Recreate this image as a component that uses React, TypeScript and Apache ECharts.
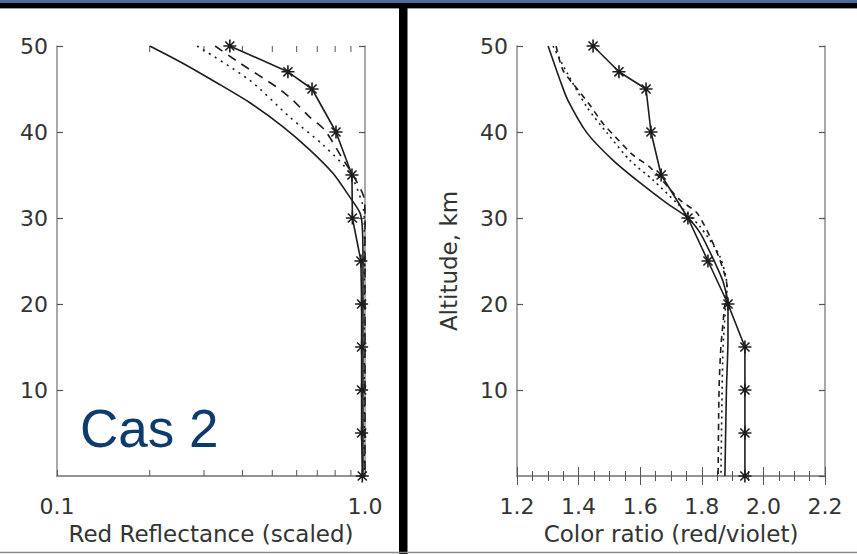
import React, { useEffect, useRef } from "react";
import * as echarts from "echarts";

// ---------- data ----------
const altStar = [50, 47, 45, 40, 35, 30, 25, 20, 15, 10, 5, 0];
const redStar = [0.364, 0.562, 0.673, 0.805, 0.907, 0.91, 0.97, 0.975, 0.975, 0.975, 0.975, 0.98];
const colorStar = [1.447, 1.531, 1.619, 1.635, 1.668, 1.755, 1.82, 1.885, 1.94, 1.94, 1.94, 1.94];

const altRedSolid = [50, 48, 45.7, 43.4, 40.6, 37.9, 35.2, 32.4, 30.6, 29, 25, 20, 10, 0];
const redSolid = [0.2, 0.256, 0.331, 0.423, 0.542, 0.663, 0.787, 0.894, 0.963, 0.98, 0.985, 0.985, 0.985, 0.985];

const altRedDotted = [50, 46, 41.7, 38.5, 35.2, 31.7, 30, 25, 0];
const redDotted = [0.285, 0.423, 0.571, 0.731, 0.894, 0.98, 0.995, 0.995, 0.995];

const altRedDashed = [50, 48, 45.2, 43.7, 41.7, 40.2, 37, 35, 32.5, 30, 0];
const redDashed = [0.326, 0.393, 0.518, 0.583, 0.663, 0.741, 0.842, 0.914, 0.99, 1.0, 1.0];

const altColSolid = [50, 46, 43.7, 39.9, 36.7, 34.1, 31.7, 30.1, 28.3, 26, 24, 22.5, 20, 16, 10, 0];
const colSolid = [1.301, 1.34, 1.365, 1.427, 1.512, 1.599, 1.687, 1.752, 1.794, 1.827, 1.853, 1.87, 1.885, 1.885, 1.88, 1.875];

const altColDotted = [50, 46.9, 42.9, 39.9, 36.7, 34.4, 31.7, 29, 25.5, 22, 20, 15, 10, 0];
const colDotted = [1.317, 1.362, 1.427, 1.492, 1.567, 1.642, 1.72, 1.794, 1.859, 1.882, 1.878, 1.869, 1.866, 1.862];

const altColDashed = [50, 47.2, 44.9, 43.1, 41, 39.1, 37.3, 35.9, 32.1, 30.6, 27.8, 25.1, 22, 20, 15, 10, 0];
const colDashed = [1.327, 1.349, 1.398, 1.437, 1.479, 1.528, 1.577, 1.632, 1.729, 1.784, 1.827, 1.859, 1.882, 1.875, 1.862, 1.856, 1.853];

const logMinorTicks = [0.2, 0.3, 0.4, 0.5, 0.6, 0.7, 0.8, 0.9];

const leftXName = "Red Reflectance (scaled)";
const rightXName = "Color ratio (red/violet)";
const yName = "Altitude, km";
const panelLabel = "Cas 2";

// ---------- helpers ----------
const pair = (xs: number[], ys: number[]) => xs.map((x, i) => [x, ys[i]]);
const FONT = "DejaVu Sans";
const TXT = "#333333";
const AX = "#8c8c8c";
const INK = "#1c1c1c";
const STAR = "path://M0 -10L0 10M-10 0L10 0M-7 -7L7 7M-7 7L7 -7";

export default function App() {
  const ref = useRef<HTMLDivElement>(null);

  useEffect(() => {
    document.body.style.margin = "0";
    const chart = echarts.init(ref.current!, null, { renderer: "svg" });

    const axisLine = { show: true, lineStyle: { color: AX, width: 1.5 } };
    const labelStyle = { fontFamily: FONT, fontSize: 22, color: TXT };
    const nameStyle = { fontFamily: FONT, fontSize: 23, color: TXT };

    const yAxisBase = (grid: number, pos: "left" | "right", labels: boolean, name: string) => ({
      type: "value",
      gridIndex: grid,
      position: pos,
      min: 0,
      max: 50,
      interval: 10,
      axisLine,
      axisTick: { show: true, inside: true, length: 6, lineStyle: { color: "#555", width: 1.2 } },
      axisLabel: labels
        ? { show: true, margin: 9, showMinLabel: false, ...labelStyle }
        : { show: false },
      splitLine: { show: false },
      name,
      nameLocation: "middle",
      nameGap: 57,
      nameTextStyle: nameStyle,
    });

    const lineS = (xi: number, yi: number, data: number[][], type: any, z = 2) => ({
      type: "line",
      xAxisIndex: xi,
      yAxisIndex: yi,
      data,
      showSymbol: false,
      smooth: 0.25,
      lineStyle: { color: INK, width: 1.6, type },
      z,
    });

    const starS = (xi: number, yi: number, data: number[][]) => ({
      type: "line",
      xAxisIndex: xi,
      yAxisIndex: yi,
      data,
      symbol: STAR,
      symbolSize: 13,
      showSymbol: true,
      showAllSymbol: true,
      lineStyle: { color: INK, width: 1.6 },
      itemStyle: { color: INK, borderColor: INK, borderWidth: 1.6 },
      z: 5,
    });

    const option: any = {
      animation: false,
      backgroundColor: "#ffffff",
      grid: [
        { left: 57, top: 46, width: 308, height: 430, containLabel: false, outerBoundsMode: "none" },
        { left: 517, top: 46, width: 308, height: 430, containLabel: false, outerBoundsMode: "none" },
      ],
      xAxis: [
        {
          type: "log",
          logBase: 10,
          gridIndex: 0,
          position: "bottom",
          min: 0.1,
          max: 1,
          axisLine,
          axisTick: { show: true, inside: true, length: 6, lineStyle: { color: "#555" } },
          axisLabel: { show: true, margin: 19, formatter: (v: number) => v.toFixed(1), ...labelStyle },
          splitLine: { show: false },
          name: leftXName,
          nameLocation: "middle",
          nameGap: 46,
          nameTextStyle: nameStyle,
        },
        {
          type: "log",
          logBase: 10,
          gridIndex: 0,
          position: "top",
          min: 0.1,
          max: 1,
          axisLine,
          axisTick: { show: false },
          axisLabel: { show: false },
          splitLine: { show: false },
        },
        {
          type: "value",
          gridIndex: 1,
          position: "bottom",
          min: 1.2,
          max: 2.2,
          interval: 0.2,
          axisLine,
          axisTick: { show: true, inside: true, length: 9, lineStyle: { color: "#555" } },
          minorTick: { show: true, splitNumber: 4, length: 5, lineStyle: { color: "#555" } },
          axisLabel: { show: true, margin: 19, formatter: (v: number) => v.toFixed(1), ...labelStyle },
          splitLine: { show: false },
          name: rightXName,
          nameLocation: "middle",
          nameGap: 46,
          nameTextStyle: nameStyle,
        },
        {
          type: "value",
          gridIndex: 1,
          position: "top",
          min: 1.2,
          max: 2.2,
          interval: 0.2,
          axisLine,
          axisTick: { show: true, inside: true, length: 9, lineStyle: { color: "#555" } },
          minorTick: { show: true, splitNumber: 4, length: 5, lineStyle: { color: "#555" } },
          axisLabel: { show: false },
          splitLine: { show: false },
        },
      ],
      yAxis: [
        yAxisBase(0, "left", true, ""),
        yAxisBase(0, "right", false, ""),
        yAxisBase(1, "left", true, yName),
        yAxisBase(1, "right", false, ""),
      ],
      series: [
        // minor ticks of the log axis (top and bottom)
        {
          type: "custom",
          xAxisIndex: 0,
          yAxisIndex: 0,
          data: logMinorTicks.map((v) => [v, 0]),
          renderItem: (params: any, api: any) => {
            const b = api.coord([api.value(0), 0]);
            const t = api.coord([api.value(0), 50]);
            const st = { stroke: "#555", lineWidth: 1 };
            return {
              type: "group",
              children: [
                { type: "line", shape: { x1: b[0], y1: b[1], x2: b[0], y2: b[1] - 6 }, style: st },
                { type: "line", shape: { x1: t[0], y1: t[1], x2: t[0], y2: t[1] + 6 }, style: st },
              ],
            };
          },
          z: 1,
        },
        lineS(0, 0, pair(redSolid, altRedSolid), "solid"),
        lineS(0, 0, pair(redDotted, altRedDotted), [2, 5]),
        lineS(0, 0, pair(redDashed, altRedDashed), [9, 7]),
        starS(0, 0, pair(redStar, altStar)),
        lineS(2, 2, pair(colSolid, altColSolid), "solid"),
        lineS(2, 2, pair(colDotted, altColDotted), [2, 4]),
        lineS(2, 2, pair(colDashed, altColDashed), [6, 5]),
        starS(2, 2, pair(colorStar, altStar)),
      ],
      graphic: [
        { type: "rect", shape: { x: 0, y: 0, width: 857, height: 3 }, style: { fill: "#4d6d98" } },
        { type: "rect", shape: { x: 0, y: 3, width: 857, height: 5 }, style: { fill: "#000000" } },
        { type: "line", shape: { x1: 0, y1: 8.5, x2: 857, y2: 8.5 }, style: { stroke: "#9a9a9a", lineWidth: 1 } },
        { type: "rect", shape: { x: 399, y: 3, width: 8.5, height: 551 }, style: { fill: "#000000" } },
        { type: "line", shape: { x1: 0, y1: 552.5, x2: 857, y2: 552.5 }, style: { stroke: "#8a8a8a", lineWidth: 1.5 } },
        {
          type: "text",
          x: 80,
          y: 428,
          style: {
            text: panelLabel,
            font: '53px "Liberation Sans", Arial, sans-serif',
            fill: "#0d3b6e",
            align: "left",
            verticalAlign: "middle",
          },
        },
      ],
    };

    chart.setOption(option);
    return () => chart.dispose();
  }, []);

  return <div ref={ref} style={{ position: "absolute", left: 0, top: 0, width: 857, height: 554 }} />;
}
